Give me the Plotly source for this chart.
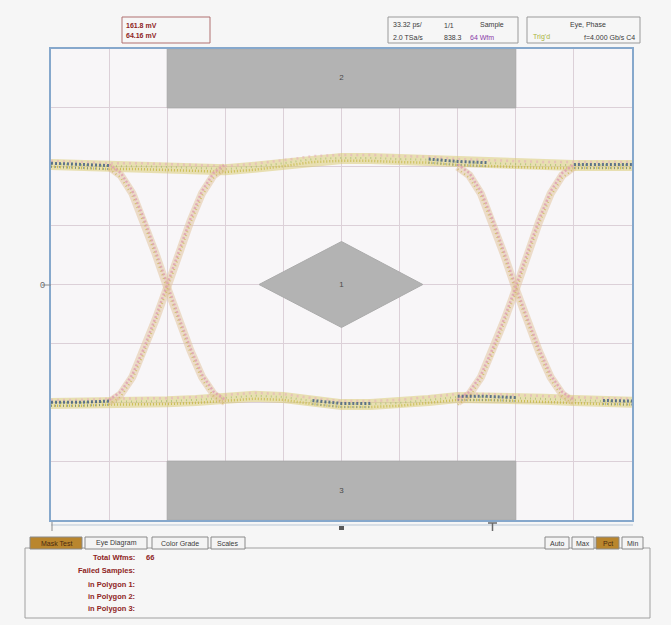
import plotly.graph_objects as go

W, H = 671, 625

# ---------------- data ----------------
# graticule: 10 x 8 divisions, x in divisions, y in divisions
X_RANGE = [0, 10]
Y_RANGE = [-4, 4]

# rail levels (div), sampled every half division across the screen
RAIL_T = [0.0, 0.5, 1.0, 1.5, 2.0, 2.5, 3.0, 3.5, 4.0, 4.5, 5.0,
          5.5, 6.0, 6.5, 7.0, 7.5, 8.0, 8.5, 9.0, 9.5, 10.0]
UPPER_RAIL = [2.04, 2.02, 2.00, 2.00, 1.99, 1.97, 1.95, 1.99, 2.05, 2.12, 2.14,
              2.14, 2.12, 2.11, 2.07, 2.05, 2.04, 2.02, 2.02, 2.02, 2.02]
LOWER_RAIL = [-2.02, -2.02, -2.00, -2.00, -1.99, -1.97, -1.94, -1.90, -1.92, -1.99, -2.04,
              -2.04, -2.02, -1.97, -1.92, -1.92, -1.94, -1.95, -1.97, -1.99, -2.00]

# transition shape around each crossing point (offset in div -> level in div)
EDGE_DT = [-1.0, -0.8, -0.6, -0.4, -0.2, 0.0, 0.2, 0.4, 0.6, 0.8, 1.0]
FALLING_EDGE = [2.0, 1.86, 1.56, 1.10, 0.56, 0.0, -0.56, -1.10, -1.56, -1.86, -2.0]
CROSSINGS = [2.0, 8.0]
CROSS_LEVEL = [-0.05, -0.08]

# stretches of the rails where the dense (blue) hits sit: index ranges into RAIL_T
UPPER_DENSE = [(0, 3), (13, 16), (18, 21)]
LOWER_DENSE = [(0, 3), (9, 12), (14, 17), (19, 21)]

# mask polygons
MASK_TOP_X = [2, 8, 8, 2]
MASK_TOP_Y = [3, 3, 4, 4]
MASK_MID_X = [3.58, 5.0, 6.40, 5.0]
MASK_MID_Y = [0.0, 0.73, 0.0, -0.73]
MASK_BOT_X = [2, 8, 8, 2]
MASK_BOT_Y = [-4, -4, -3, -3]
MASK_LABELS = ["2", "1", "3"]
MASK_LABEL_Y = [3.5, 0.0, -3.5]

# readouts
CURSOR_READOUT = ["161.8 mV", "64.16 mV"]
ACQ_ROW1 = ["33.32 ps/", "1/1", "Sample"]
ACQ_ROW2 = ["2.0 TSa/s", "838.3", "64 Wfm"]
TRIG_TITLE = "Eye, Phase"
TRIG_STATE = "Trig'd"
TRIG_INFO = "f=4.000 Gb/s C4"
TABS = ["Mask Test", "Eye Diagram", "Color Grade", "Scales"]
SCALE_BUTTONS = ["Auto", "Max", "Pct", "Min"]
STAT_LABELS = ["Total Wfms:", "Failed Samples:", "in Polygon 1:", "in Polygon 2:", "in Polygon 3:"]
STAT_VALUES = ["66", "", "", "", ""]

# ---------------- helpers ----------------
def fx(px):
    return px / W


def fy(py):
    return 1 - py / H


FONT = "Liberation Sans"
TXT_RED = "#8e2424"

fig = go.Figure()


def band(xs, ys, layers):
    for color, width, dash, dy in layers:
        fig.add_trace(go.Scatter(
            x=xs, y=[v + dy for v in ys], mode="lines",
            line=dict(color=color, width=width, dash=dash),
            hoverinfo="skip", showlegend=False))


# mask regions
for mx, my in [(MASK_TOP_X, MASK_TOP_Y), (MASK_MID_X, MASK_MID_Y), (MASK_BOT_X, MASK_BOT_Y)]:
    fig.add_trace(go.Scatter(
        x=mx + [mx[0]], y=my + [my[0]], mode="lines", fill="toself",
        fillcolor="#b3b3b3", line=dict(color="#ababab", width=1),
        hoverinfo="skip", showlegend=False))

fig.add_trace(go.Scatter(
    x=[5.0] * len(MASK_LABELS), y=MASK_LABEL_Y, mode="text", text=MASK_LABELS,
    textfont=dict(family=FONT, size=8, color="#4a4a4a"),
    hoverinfo="skip", showlegend=False))

# rails
RAIL_LAYERS = [
    ("rgba(218,204,118,0.55)", 11, "solid", 0.0),
    ("rgba(228,176,186,0.6)", 2.5, "2px,4px", 0.06),
    ("rgba(198,184,70,0.85)", 2.5, "1px,2px", -0.04),
    ("rgba(150,185,95,0.6)", 2, "1px,4px", 0.01),
]
for rail in (UPPER_RAIL, LOWER_RAIL):
    band(RAIL_T, rail, RAIL_LAYERS)

# edges through both crossing points
EDGE_LAYERS = [
    ("rgba(226,196,160,0.55)", 8, "solid", 0.0),
    ("rgba(222,158,176,0.8)", 2.5, "2px,2px", 0.04),
    ("rgba(204,186,92,0.8)", 2, "1px,3px", -0.04),
]
for xc, yc in zip(CROSSINGS, CROSS_LEVEL):
    ex = [xc + d for d in EDGE_DT]
    fall = [v + yc * (1 - abs(v) / 2.0) for v in FALLING_EDGE]
    rise = [-v + yc * (1 - abs(v) / 2.0) for v in FALLING_EDGE]
    band(ex, fall, EDGE_LAYERS)
    band(ex, rise, EDGE_LAYERS)

# dense hit stretches on the rails
for rail, spans in ((UPPER_RAIL, UPPER_DENSE), (LOWER_RAIL, LOWER_DENSE)):
    for a, b in spans:
        band(RAIL_T[a:b], rail[a:b], [
            ("rgba(52,82,128,0.75)", 3, "2px,2px", 0.02),
            ("rgba(70,110,150,0.55)", 2, "1px,3px", -0.04),
        ])

# ---------------- chrome ----------------
shapes = []
annotations = []

# centre lines of the graticule
shapes.append(dict(type="line", xref="x", yref="y", x0=5, x1=5, y0=-4, y1=4,
                   line=dict(color="#d9bcc8", width=1), layer="below"))
shapes.append(dict(type="line", xref="x", yref="y", x0=0, x1=10, y0=0, y1=0,
                   line=dict(color="#d9bcc8", width=1), layer="below"))

# ruler under the screen
shapes.append(dict(type="line", xref="paper", yref="paper", x0=fx(51), x1=fx(633),
                   y0=fy(525), y1=fy(525), line=dict(color="#b9c7d6", width=1)))
shapes.append(dict(type="line", xref="paper", yref="paper", x0=fx(52), x1=fx(52),
                   y0=fy(522), y1=fy(531), line=dict(color="#8c8c8c", width=1)))
shapes.append(dict(type="rect", xref="paper", yref="paper", x0=fx(339), x1=fx(344),
                   y0=fy(526), y1=fy(530), fillcolor="#5a5a5a", line=dict(width=0)))
shapes.append(dict(type="line", xref="paper", yref="paper", x0=fx(488), x1=fx(497),
                   y0=fy(523), y1=fy(523), line=dict(color="#6a6a6a", width=1.5)))
shapes.append(dict(type="line", xref="paper", yref="paper", x0=fx(492.5), x1=fx(492.5),
                   y0=fy(523), y1=fy(531), line=dict(color="#6a6a6a", width=1.5)))

# ground reference marker
shapes.append(dict(type="line", xref="paper", yref="paper", x0=fx(42), x1=fx(51),
                   y0=fy(285), y1=fy(285), line=dict(color="#8a8a8a", width=1)))
annotations.append(dict(x=fx(38), y=fy(285), xref="paper", yref="paper", text="0",
                        showarrow=False, font=dict(family=FONT, size=9, color="#6a6a6a")))

# top readout boxes
def box(x0, y0, x1, y1, color="#9a9a9a", fill="rgba(0,0,0,0)", width=1):
    shapes.append(dict(type="rect", xref="paper", yref="paper", x0=fx(x0), x1=fx(x1),
                       y0=fy(y1), y1=fy(y0), line=dict(color=color, width=width),
                       fillcolor=fill))


def label(px, py, text, color="#3a3a3a", size=7, anchor="left", bold=False):
    if bold:
        text = "<b>" + text + "</b>"
    annotations.append(dict(x=fx(px), y=fy(py), xref="paper", yref="paper", text=text,
                            showarrow=False, xanchor=anchor, yanchor="middle",
                            font=dict(family=FONT, size=size, color=color)))


box(122, 17, 210, 43, color="#b07070")
label(124, 25, CURSOR_READOUT[0], TXT_RED, bold=True)
label(124, 35, CURSOR_READOUT[1], TXT_RED, bold=True)

box(388, 17, 518, 43)
for px, t in zip([391, 442, 478], ACQ_ROW1):
    label(px, 25, t)
for px, t, c in zip([391, 442, 468], ACQ_ROW2, ["#3a3a3a", "#3a3a3a", "#8a3aa8"]):
    label(px, 37, t, c)

box(527, 17, 640, 43)
label(588, 25, TRIG_TITLE, anchor="center")
label(531, 37, TRIG_STATE, "#a8b43c")
label(637, 37, TRIG_INFO, anchor="right")

# bottom panel with tabs and statistics
box(25, 548, 650, 618, color="#a0a0a0")
tab_x = [(30, 82), (85, 147), (152, 208), (211, 245)]
for (a, b), t in zip(tab_x, TABS):
    active = t == TABS[0]
    box(a, 537, b, 549, color="#8a8a8a",
        fill="#b9862e" if active else "#f4f4f4")
    label((a + b) / 2, 543, t, "#4a2a10" if active else "#3a3a3a", size=7, anchor="center")

btn_x = [(545, 569), (572, 594), (596, 619), (622, 643)]
for (a, b), t in zip(btn_x, SCALE_BUTTONS):
    active = t == "Pct"
    box(a, 537, b, 549, color="#8a8a8a",
        fill="#b9862e" if active else "#f4f4f4")
    label((a + b) / 2, 543, t, "#4a2a10" if active else "#3a3a3a", size=7, anchor="center")

for py, t, v in zip([557, 570, 584, 596, 608], STAT_LABELS, STAT_VALUES):
    label(137, py, t, TXT_RED, size=7.5, anchor="right", bold=True)
    if v:
        label(144, py, v, TXT_RED, size=7.5, bold=True)

axis_common = dict(showticklabels=False, ticks="", zeroline=False, showgrid=True,
                   gridcolor="#dcd0d8", gridwidth=1, showline=True, mirror=True,
                   linecolor="#86a8cc", linewidth=2, fixedrange=True)

fig.update_layout(
    width=W, height=H, autosize=False,
    margin=dict(l=0, r=0, t=0, b=0),
    paper_bgcolor="#f6f6f6",
    plot_bgcolor="#f8f6f8",
    showlegend=False,
    hovermode=False,
    xaxis=dict(range=X_RANGE, dtick=1, domain=[fx(51), fx(632)], **axis_common),
    yaxis=dict(range=Y_RANGE, dtick=1, domain=[fy(520), fy(49)], **axis_common),
    shapes=shapes,
    annotations=annotations,
)

fig.write_html("out.html")
